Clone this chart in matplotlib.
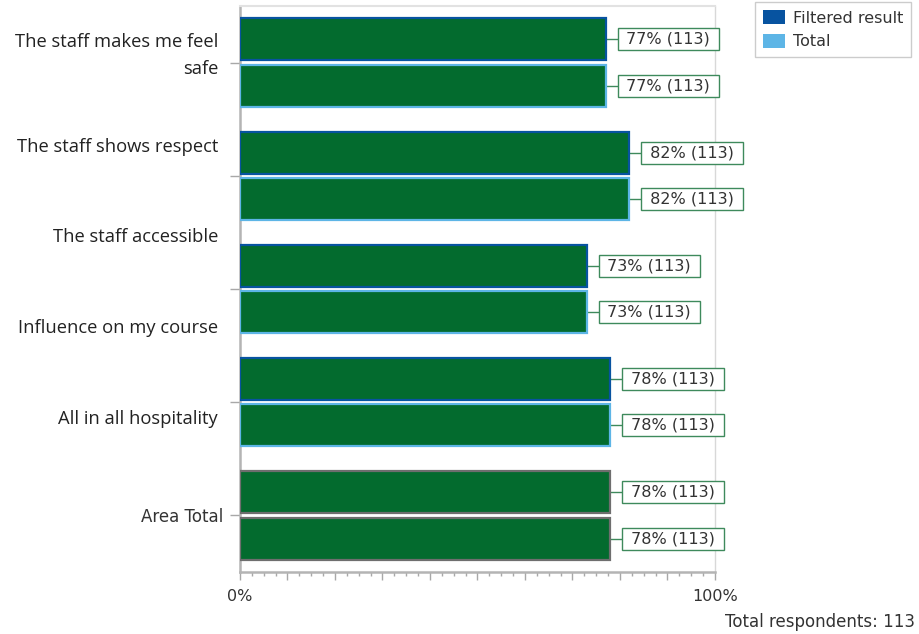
import numpy as np
import matplotlib.pyplot as plt
from matplotlib.patches import Patch
from matplotlib import transforms

plt.rcParams['font.family'] = 'DejaVu Sans'

#%% Daten
questions = ["The staff makes me feel\nsafe", "The staff shows respect", "The staff accessible",
             "Influence on my course", "All in all hospitality"]
total_label = "Area Total"
filtered = [77, 82, 73, 78, 78]   # Filtered result [%]
total = [77, 82, 73, 78, 78]      # Total [%]
n_filtered = [113, 113, 113, 113, 113]
n_total = [113, 113, 113, 113, 113]
respondents = 113

#%% Farben
green = '#036B2E'
dark_blue = '#0753A0'
light_blue = '#5DB5E6'
gray_edge = '#6E6E6E'
box_green = '#3E8A5C'
txt = '#333333'

fig = plt.figure(figsize=(9.2, 6.34), dpi=100)
ax = fig.add_axes([240/920, 62/634, 475/920, 566/634])

n = len(filtered)
y = np.arange(n)
h = 0.37
off = 0.205
edges_f = [dark_blue]*(n-1) + [gray_edge]
edges_t = [light_blue]*(n-1) + [gray_edge]

ax.barh(y - off, filtered, height=h, color=green, edgecolor=edges_f, linewidth=1.6, zorder=3)
ax.barh(y + off, total, height=h, color=green, edgecolor=edges_t, linewidth=1.6, zorder=3)

# Wertelabels mit Kasten
gap = 12  # px
fs = 11.5
pad = 0.22
for vals, counts, yy in [(filtered, n_filtered, y - off), (total, n_total, y + off)]:
    for v, c, yi in zip(vals, counts, yy):
        ax.plot([v, v + gap/475*100], [yi, yi], color=box_green, lw=1, zorder=2)
        tr = transforms.offset_copy(ax.transData, fig=fig, x=gap + pad*fs*100/72, y=0, units='dots')
        ax.text(v, yi, ' {}% ({}) '.format(v, c), transform=tr, ha='left', va='center',
                fontsize=fs, color=txt, zorder=4,
                bbox=dict(boxstyle='square,pad={}'.format(pad), fc='white', ec=box_green, lw=1))

ax.set_xlim(0, 100)
ax.set_ylim(n - 0.5, -0.5)

# Achsen
ax.set_xticks(np.arange(0, 101, 10))
ax.set_xticks(np.arange(0, 101, 2.5), minor=True)
ax.set_xticklabels(['0%'] + ['']*9 + ['100%'])
ax.tick_params(axis='x', which='major', length=6, width=1, color='#A8A8A8', labelsize=11.5,
               labelcolor=txt, pad=6)
ax.tick_params(axis='x', which='minor', length=3, width=1, color='#A8A8A8')
ax.set_yticks(y)
ax.set_yticklabels([''] * (n-1) + [total_label])
ax.tick_params(axis='y', length=7, width=1, color='#A8A8A8', labelsize=12, labelcolor=txt, pad=5)

for s in ['left', 'bottom']:
    ax.spines[s].set_color('#B4B4B4')
    ax.spines[s].set_linewidth(1.8)
ax.spines['top'].set_color('#E2E2E2')
ax.spines['top'].set_linewidth(1.5)
ax.spines['right'].set_color('#D8D8D8')
ax.spines['right'].set_linewidth(1)

# Fragentexte
label_y = np.linspace(-0.06, 3.15, len(questions))
trans = transforms.blended_transform_factory(ax.transAxes, ax.transData)
for q, ly in zip(questions, label_y):
    ax.text(-0.046, ly, q, transform=trans, ha='right', va='center', multialignment='right',
            fontsize=13.2, family='Open Sans', color='#222222', linespacing=1.65)

# Legende
handles = [Patch(fc=dark_blue, ec='none', label='Filtered result'),
           Patch(fc=light_blue, ec='none', label='Total')]
leg = fig.legend(handles=handles, loc='upper left', bbox_to_anchor=(755/920, 1 - 2/634),
                 fontsize=11.5, frameon=True, fancybox=False, edgecolor='#C0C0C0',
                 handlelength=1.4, handleheight=1.0, handletextpad=0.45, borderpad=0.5,
                 labelspacing=0.5, borderaxespad=0)
for t in leg.get_texts():
    t.set_color(txt)
leg.get_frame().set_linewidth(1)

fig.text(0.995, 12/634, 'Total respondents: {}'.format(respondents), ha='right', va='center',
         fontsize=12, color=txt)

plt.savefig('out.png', dpi=100)
